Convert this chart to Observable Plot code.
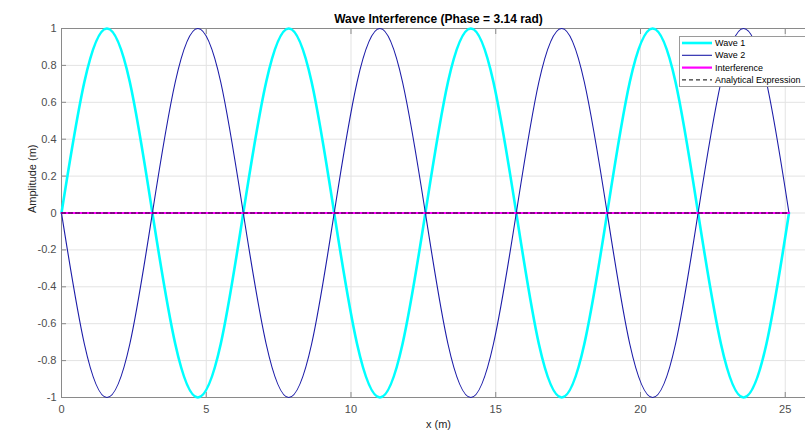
<!DOCTYPE html>
<html>
<head>
<meta charset="utf-8">
<script src="https://cdn.jsdelivr.net/npm/d3@7"></script>
<script src="https://cdn.jsdelivr.net/npm/@observablehq/plot@0.6"></script>
<style>
  html, body { margin: 0; padding: 0; background: #fff; }
  #chart { position: relative; width: 805px; height: 432px; overflow: hidden; }
  svg { font-family: "Liberation Sans", Arial, sans-serif; }
</style>
</head>
<body>
<div id="chart"></div>
<script>
// ---- data ----
const xs = [0, 0.79, 1.57, 2.36, 3.14, 3.93, 4.71, 5.50, 6.28, 7.07, 7.85, 8.64, 9.42, 10.21, 11.00, 11.78,
            12.57, 13.35, 14.14, 14.92, 15.71, 16.49, 17.28, 18.06, 18.85, 19.63, 20.42, 21.21, 21.99, 22.78, 23.56, 24.35, 25.13];
const wave1 = [0, 0.71, 1, 0.71, 0, -0.71, -1, -0.71, 0, 0.71, 1, 0.71, 0, -0.71, -1, -0.71,
               0, 0.71, 1, 0.71, 0, -0.71, -1, -0.71, 0, 0.71, 1, 0.71, 0, -0.71, -1, -0.71, 0];
const wave2 = [0, -0.71, -1, -0.71, 0, 0.71, 1, 0.71, 0, -0.71, -1, -0.71, 0, 0.71, 1, 0.71,
               0, -0.71, -1, -0.71, 0, 0.71, 1, 0.71, 0, -0.71, -1, -0.71, 0, 0.71, 1, 0.71, 0];
const interference = [0, 0, 0, 0, 0, 0, 0, 0, 0, 0, 0, 0, 0, 0, 0, 0, 0, 0, 0, 0, 0, 0, 0, 0, 0, 0, 0, 0, 0, 0, 0, 0, 0];
const analytical = [0, 0, 0, 0, 0, 0, 0, 0, 0, 0, 0, 0, 0, 0, 0, 0, 0, 0, 0, 0, 0, 0, 0, 0, 0, 0, 0, 0, 0, 0, 0, 0, 0];
const seriesNames = ["Wave 1", "Wave 2", "Interference", "Analytical Expression"];
const xTicks = [0, 5, 10, 15, 20, 25];
const yTicks = [-1, -0.8, -0.6, -0.4, -0.2, 0, 0.2, 0.4, 0.6, 0.8, 1];
const title = "Wave Interference (Phase = 3.14 rad)";
const xLabel = "x (m)";
const yLabel = "Amplitude (m)";

const toRows = ys => xs.map((x, i) => ({x, y: ys[i]}));
const styles = [
  {stroke: "#00ffff", strokeWidth: 2.6, dash: null},
  {stroke: "#1c1ca8", strokeWidth: 1.1, dash: null},
  {stroke: "#ff00ff", strokeWidth: 2.2, dash: null},
  {stroke: "#000000", strokeWidth: 1, dash: "4,3"}
];
const data = [wave1, wave2, interference, analytical].map(toRows);

const axisColor = "#8a8a8a";
const textColor = "#4d4d4d";

const plot = Plot.plot({
  width: 805,
  height: 432,
  marginLeft: 61,
  marginRight: 0,
  marginTop: 28,
  marginBottom: 35,
  x: {domain: [0, 25.7], ticks: xTicks},
  y: {domain: [-1, 1], ticks: yTicks},
  style: {fontFamily: "Liberation Sans, Arial, sans-serif", fontSize: "11px", color: textColor, background: "#fff"},
  marks: [
    Plot.gridX(xTicks, {stroke: "#e3e3e3", strokeOpacity: 1}),
    Plot.gridY(yTicks, {stroke: "#e3e3e3", strokeOpacity: 1}),
    Plot.ruleY([-1], {stroke: axisColor}),
    Plot.ruleY([1], {stroke: axisColor}),
    Plot.ruleX([0], {stroke: axisColor}),
    Plot.axisX({ticks: xTicks, tickSize: -5, tickPadding: 13, tickFormat: d => String(d), stroke: axisColor, fill: textColor, fontSize: 11, label: null}),
    Plot.axisX({anchor: "top", ticks: xTicks, tickSize: -5, tickFormat: () => "", stroke: axisColor, label: null}),
    Plot.axisY({ticks: yTicks, tickSize: -5, tickPadding: 10, tickFormat: d => String(d), stroke: axisColor, fill: textColor, fontSize: 11, label: null}),
    ...data.map((rows, i) => Plot.line(rows, {
      x: "x", y: "y", curve: "natural",
      stroke: styles[i].stroke, strokeWidth: styles[i].strokeWidth,
      strokeDasharray: styles[i].dash
    })),
    Plot.text([title], {frameAnchor: "top", dx: 5, dy: -9, lineAnchor: "middle", fontWeight: "bold", fontSize: 12, fill: "#000"}),
    Plot.text([xLabel], {frameAnchor: "bottom", dx: 5, dy: 27, lineAnchor: "middle", fontSize: 11, fill: "#262626"}),
    Plot.text([yLabel], {frameAnchor: "left", dx: -29, rotate: -90, lineAnchor: "middle", fontSize: 11, fill: "#262626"})
  ]
});

document.getElementById("chart").appendChild(plot);

// legend box (top-right)
const svg = d3.select(plot);
const lg = svg.append("g").attr("transform", "translate(679,36)").attr("text-anchor", "start");
lg.append("rect").attr("x", 0.5).attr("y", 0.5).attr("width", 130).attr("height", 50)
  .attr("fill", "#fff").attr("stroke", "#9a9a9a").attr("stroke-width", 1);
seriesNames.forEach((name, i) => {
  const y = 7 + i * 12.3;
  lg.append("line").attr("x1", 3).attr("x2", 33).attr("y1", y).attr("y2", y)
    .attr("stroke", styles[i].stroke).attr("stroke-width", styles[i].strokeWidth)
    .attr("stroke-dasharray", styles[i].dash);
  lg.append("text").attr("x", 36).attr("y", y).attr("dy", "0.35em")
    .attr("text-anchor", "start")
    .attr("font-size", 9).attr("fill", "#000").text(name);
});
</script>
</body>
</html>
